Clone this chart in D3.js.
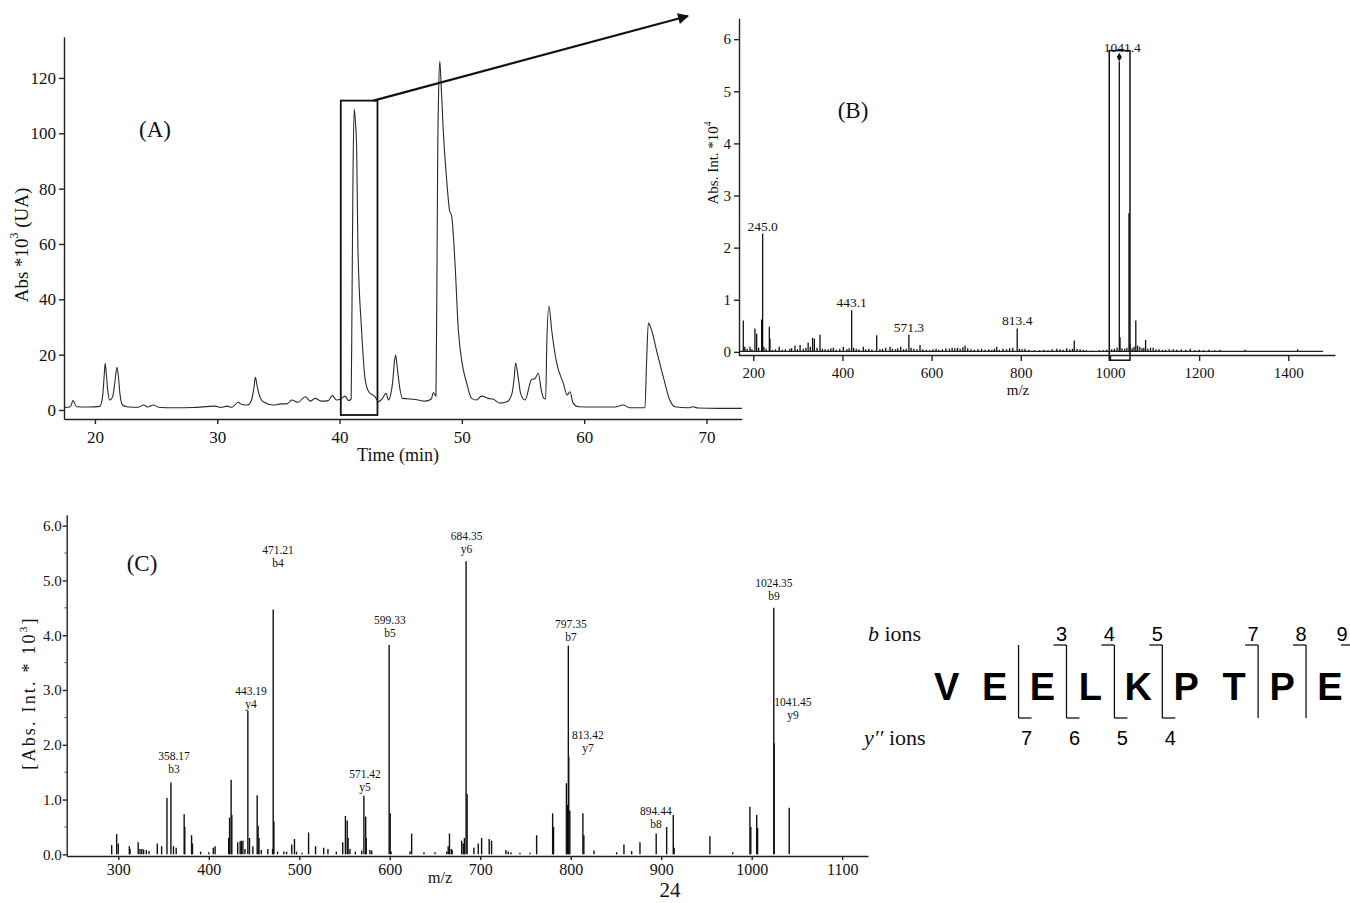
<!DOCTYPE html>
<html>
<head>
<meta charset="utf-8">
<script src="https://cdn.jsdelivr.net/npm/d3@7"></script>
<style>
body { margin: 0; background: #fff; }
</style>
</head>
<body>
<script>
// ---- panel A : chromatogram ----
var chromTime = [17.5,18.0,18.2,18.5,19.5,20.4,20.63,20.75,20.84,20.95,21.05,21.2,21.45,21.6,21.8,21.92,22.04,22.26,22.6,23.5,24.0,24.3,24.77,25.2,26.5,28,29.8,30.3,30.8,31.2,31.7,32.0,32.5,32.8,33.0,33.12,33.25,33.4,33.76,34.6,35.2,35.7,36.1,36.6,37.2,37.6,38.0,38.5,39.08,39.4,39.76,40.1,40.44,40.75,40.95,41.02,41.1,41.2,41.3,41.4,41.5,41.8,42.1,42.4,42.9,43.2,43.5,43.8,44.0,44.2,44.34,44.5,44.59,44.7,44.94,45.15,46.2,47.0,47.5,47.66,47.88,47.95,48.03,48.1,48.2,48.3,48.48,48.76,49.0,49.17,49.44,49.71,49.98,50.4,50.8,51.2,51.6,52.16,52.57,53.1,53.7,54.1,54.26,54.4,54.6,54.8,55.16,55.7,55.98,56.25,56.5,56.7,56.85,56.95,57.12,57.34,57.75,58.3,58.6,58.84,59.1,59.5,61,62.5,63.2,63.7,64.97,65.1,65.25,65.5,65.93,66.47,67.0,67.4,68.5,68.9,69.3,71,72.9];
var chromAbs = [0.9,1.2,3.4,1.2,1.1,1.3,5,12,16.9,12,7,3.6,4.8,9,15.4,12,6,1.8,1.2,1.0,1.8,1.1,1.8,1.0,0.8,0.9,1.4,0.9,1.4,1.0,2.8,2.0,1.8,3.6,8,11.8,9,6,3,1.8,2.2,2.2,3.6,2.8,4.8,3.2,4.2,3.2,3.4,5.2,3.6,4,5,3.4,4,40,85,108.8,104,94,59,29,10.8,6.5,4.8,3,4.2,6,3.6,6,10,18,19.9,16,7.5,4.2,3.8,3.2,4,6.3,5,40,95,115,126,118,101,83,72,70,53,29,18,9.6,4.2,3.6,5,4.2,3.9,2.5,3,6,11,17,12,6,3.6,11,11.4,13.3,7,4.2,4,25,37.6,29,17,9.6,5.4,6.6,2.5,1.2,1.1,1.1,1.8,0.8,0.8,17,31.4,29,21.3,12,3.6,1.2,0.8,1.2,0.7,0.6,0.6];
var aXTicks = [20, 30, 40, 50, 60, 70];
var aYTicks = [0, 20, 40, 60, 80, 100, 120];
var aBox = [40.1, 43.1, -1.8, 111.8];   // t0, t1, abs0, abs1

// ---- panel B : MS spectrum ----
var bMz = [177.6,181,186,192.6,197,203.7,207.6,212,218.8,221,224,229,236,237.5,243,250,258,265,272,282,286,293.5,299,305,312,318,323,328,333,337,343,349.6,355,361,368,374,379.5,386,394,402,410,415,420.7,425,431,437,446.7,452,459,466,476.8,484,490,497,506.6,512,519,524,530.6,537,543,549,554,560,567,574,580,588,596,603,610,616,624,632,640,646,652,658,664,670,675,681,688,696,704,712,720,728,735,741,746,752,760,768,775,782,792,797,803,809.5,818,830,842,852,861,870,880.6,888,895,903,910,916,920,926,933,940,947,960,976,985,993,1004,1010,1016,1021,1022.6,1027,1033,1038,1042.7,1045,1050,1054,1058,1062,1067,1072,1076,1080,1085,1091,1097,1103,1110,1118,1125,1133,1142,1150,1160,1170,1180,1190,1200,1210,1222,1235,1247,1303,1421];
var bInt = [0.6,0.1,0.06,0.1,0.05,0.45,0.35,0.08,0.62,2.27,0.1,0.06,0.48,0.25,0.04,0.05,0.1,0.04,0.05,0.06,0.07,0.12,0.05,0.13,0.06,0.08,0.18,0.1,0.27,0.25,0.08,0.33,0.06,0.05,0.05,0.07,0.08,0.04,0.06,0.1,0.05,0.07,0.8,0.08,0.06,0.05,0.1,0.05,0.06,0.04,0.32,0.05,0.06,0.08,0.1,0.06,0.05,0.07,0.1,0.05,0.06,0.33,0.08,0.06,0.05,0.13,0.05,0.04,0.03,0.05,0.06,0.04,0.05,0.07,0.06,0.08,0.07,0.08,0.06,0.09,0.12,0.07,0.05,0.04,0.05,0.06,0.04,0.05,0.04,0.06,0.1,0.04,0.06,0.05,0.07,0.08,0.45,0.06,0.05,0.06,0.04,0.03,0.03,0.04,0.03,0.05,0.06,0.05,0.04,0.07,0.05,0.06,0.22,0.06,0.05,0.04,0.03,0.02,0.03,0.03,0.04,0.05,0.06,0.08,5.57,0.28,0.07,0.06,0.08,2.66,0.15,0.07,0.1,0.6,0.12,0.1,0.07,0.08,0.23,0.06,0.08,0.08,0.05,0.05,0.04,0.04,0.05,0.05,0.04,0.05,0.04,0.06,0.03,0.04,0.03,0.04,0.03,0.04,0.04,0.05];
var bBaseline = [170, 1478];
var bLabelMz = [221, 420.7, 549, 792, 1021];
var bLabelText = ["245.0", "443.1", "571.3", "813.4", "1041.4"];
var bXTicks = [200, 400, 600, 800, 1000, 1200, 1400];
var bYTicks = [0, 1, 2, 3, 4, 5, 6];
var bBox = [998.5, 1044.9, -0.16, 5.78];

// ---- panel C : MS/MS spectrum ----
var cMz = [292.7,298.2,300,312.2,313,322,324,326,328,331,334,343.1,347.9,353.8,358.17,361,364,372.8,373.5,381,382,391,400,405,407,422,423,424.7,425.5,432,434.7,436,437.7,440,443.19,445,448.7,453.5,454.5,455.5,458,465.3,470.5,471.21,472,476,483,486,491.7,494.7,497,503,510.3,518,527,531.7,541,548,551,553,554,556,562,569,571.42,573.4,574,578,580,599.33,600.5,601.5,622.3,624.2,637.8,650,663,664.6,666,668,669,679.5,681.3,682.5,684.35,685.5,693,697.8,701.5,709.9,712.5,728.4,731,734,743.9,755,762.3,780,781,795.2,796.2,797.35,797.8,799,813.42,814.5,825.7,850.7,858.8,867.3,876.5,894.44,906,913.3,914.3,953.8,979,998,999,1005.5,1006.5,1024.35,1024.8,1041.45];
var cInt = [0.17,0.37,0.2,0.15,0.1,0.22,0.1,0.1,0.09,0.08,0.06,0.2,0.15,1.03,1.31,0.15,0.12,0.73,0.5,0.35,0.2,0.05,0.04,0.12,0.15,0.3,0.67,1.36,0.72,0.22,0.24,0.25,0.25,0.1,2.62,0.3,0.15,1.08,0.52,0.3,0.08,0.1,0.1,4.47,0.6,0.05,0.05,0.05,0.18,0.28,0.05,0.03,0.4,0.15,0.12,0.1,0.05,0.22,0.7,0.62,0.3,0.1,0.05,0.07,1.07,0.69,0.3,0.08,0.07,3.82,0.75,0.05,0.05,0.38,0.04,0.04,0.05,0.15,0.38,0.1,0.08,0.25,0.2,0.3,5.35,1.1,0.12,0.2,0.3,0.28,0.25,0.08,0.05,0.04,0.03,0.03,0.35,0.75,0.5,1.3,0.9,3.81,1.78,0.8,0.75,0.35,0.07,0.04,0.18,0.06,0.22,0.38,0.5,0.72,0.12,0.33,0.04,0.87,0.5,0.72,0.48,4.5,2.03,0.85];
var cLabelMz = [361.6, 446.6, 476.5, 572.6, 600.2, 684.9, 800.2, 819, 894.1, 1024.5, 1045.5];
var cLabelLevel = [1.49, 2.68, 5.24, 1.15, 3.97, 5.5, 3.9, 1.86, 0.48, 4.65, 2.47];
var cLabelValue = ["358.17", "443.19", "471.21", "571.42", "599.33", "684.35", "797.35", "813.42", "894.44", "1024.35", "1041.45"];
var cLabelIon = ["b3", "y4", "b4", "y5", "b5", "y6", "b7", "y7", "b8", "b9", "y9"];
var cXTicks = [300, 400, 500, 600, 700, 800, 900, 1000, 1100];
var cYTicks = [0, 1, 2, 3, 4, 5, 6];
var cYMinor = [0.5, 1.5, 2.5, 3.5, 4.5, 5.5];

// ---- peptide sequence ----
var residues = ["V", "E", "E", "L", "K", "P", "T", "P", "E"];
var bIons = [3, 4, 5, 7, 8, 9];
var yIons = [7, 6, 5, 4];

var serif = "Liberation Serif, Times New Roman, serif";
var sans = "Liberation Sans, Arial, sans-serif";
var ink = "#111";
var intFmt = d3.format("d");

var svg = d3.select("body").append("svg")
  .attr("width", 1350)
  .attr("height", 903)
  .style("background", "#fff");

function styleAxis(g, fs) {
  g.selectAll("path, line").attr("stroke", "#222").attr("stroke-width", 1.4);
  g.selectAll("text").attr("font-family", serif).attr("font-size", fs).attr("fill", ink);
}

function yTitle(x, y, parts, fs, spacing) {
  var t = svg.append("text")
    .attr("transform", "translate(" + x + "," + y + ") rotate(-90)")
    .attr("text-anchor", "middle")
    .attr("dominant-baseline", "central")
    .attr("font-family", serif)
    .attr("font-size", fs)
    .attr("fill", ink);
  if (spacing) t.attr("letter-spacing", spacing);
  parts.forEach(function(p) {
    var s = t.append("tspan").text(p.t);
    if (p.sup) s.attr("font-size", fs * 0.62).attr("dy", -fs * 0.35);
    if (p.after) s.attr("dy", fs * 0.35);
  });
  return t;
}

function plainText(x, y, s, fs, anchor) {
  return svg.append("text")
    .attr("x", x).attr("y", y)
    .attr("text-anchor", anchor || "middle")
    .attr("font-family", serif)
    .attr("font-size", fs)
    .attr("fill", ink)
    .text(s);
}

// ================= A =================
var xA = d3.scaleLinear().domain([17.47, 72.88]).range([64, 741.7]);
var yA = d3.scaleLinear().domain([-3.25, 134.9]).range([419, 36.7]);

var gAx = svg.append("g").attr("transform", "translate(0,419)")
  .call(d3.axisBottom(xA).tickValues(aXTicks).tickFormat(intFmt).tickSize(5).tickSizeOuter(0).tickPadding(7));
styleAxis(gAx, 17);
var gAy = svg.append("g").attr("transform", "translate(64,0)")
  .call(d3.axisLeft(yA).tickValues(aYTicks).tickFormat(intFmt).tickSize(5).tickSizeOuter(0).tickPadding(3));
styleAxis(gAy, 17);

var chrom = chromTime.map(function(t, i) { return [t, chromAbs[i]]; });
svg.append("path")
  .datum(chrom)
  .attr("fill", "none")
  .attr("stroke", "#2a2a2a")
  .attr("stroke-width", 1.1)
  .attr("d", d3.line()
    .x(function(d) { return xA(d[0]); })
    .y(function(d) { return yA(d[1]); })
    .curve(d3.curveMonotoneX));

svg.append("rect")
  .attr("x", xA(aBox[0])).attr("y", yA(aBox[3]))
  .attr("width", xA(aBox[1]) - xA(aBox[0]))
  .attr("height", yA(aBox[2]) - yA(aBox[3]))
  .attr("fill", "none").attr("stroke", ink).attr("stroke-width", 1.8);

plainText(155, 137, "(A)", 23);
plainText(398, 461, "Time (min)", 18);
yTitle(21, 245, [{t: "Abs *10"}, {t: "3", sup: true}, {t: " (UA)", after: true}], 19);

// zoom arrow from the box to panel B
svg.append("defs").append("marker")
  .attr("id", "head")
  .attr("viewBox", "0 0 10 10")
  .attr("refX", 9).attr("refY", 5)
  .attr("markerWidth", 7).attr("markerHeight", 5)
  .attr("markerUnits", "strokeWidth")
  .attr("orient", "auto")
  .append("path").attr("d", "M0,0L10,5L0,10Z").attr("fill", ink);

svg.append("line")
  .attr("x1", xA(aBox[1]) - 4).attr("y1", yA(aBox[3]))
  .attr("x2", 688).attr("y2", 16)
  .attr("stroke", ink).attr("stroke-width", 2.2)
  .attr("marker-end", "url(#head)");

// ================= B =================
var xB = d3.scaleLinear().domain([166.4, 1504.8]).range([738.3, 1335]);
var yB = d3.scaleLinear().domain([-0.06, 6.4]).range([355, 18.3]);

var gBx = svg.append("g").attr("transform", "translate(0,355)")
  .call(d3.axisBottom(xB).tickValues(bXTicks).tickFormat(intFmt).tickSize(6).tickSizeOuter(0).tickPadding(6));
styleAxis(gBx, 15);
var gBy = svg.append("g").attr("transform", "translate(739,0)")
  .call(d3.axisLeft(yB).tickValues(bYTicks).tickFormat(intFmt).tickSize(5).tickSizeOuter(0).tickPadding(3));
styleAxis(gBy, 15);

svg.append("line")
  .attr("x1", xB(bBaseline[0])).attr("x2", xB(bBaseline[1]))
  .attr("y1", yB(0.01)).attr("y2", yB(0.01))
  .attr("stroke", "#222").attr("stroke-width", 1.3);

svg.append("g").selectAll("line")
  .data(bMz)
  .enter().append("line")
  .attr("x1", function(d) { return xB(d); })
  .attr("x2", function(d) { return xB(d); })
  .attr("y1", yB(0))
  .attr("y2", function(d, i) { return yB(bInt[i]); })
  .attr("stroke", "#111")
  .attr("stroke-width", 1.3);

bLabelMz.forEach(function(m, k) {
  var h = bInt[bMz.indexOf(m)];
  var last = k === bLabelMz.length - 1;
  plainText(xB(m) + (last ? 3 : 0), yB(h) - (last ? 10 : 3), bLabelText[k], 13.5);
  if (last) {
    svg.append("path")
      .attr("d", d3.symbol(d3.symbolDiamond).size(22)())
      .attr("transform", "translate(" + xB(m) + "," + (yB(h) - 4.5) + ")")
      .attr("fill", ink);
  }
});

svg.append("rect")
  .attr("x", xB(bBox[0])).attr("y", yB(bBox[3]))
  .attr("width", xB(bBox[1]) - xB(bBox[0]))
  .attr("height", yB(bBox[2]) - yB(bBox[3]))
  .attr("fill", "none").attr("stroke", ink).attr("stroke-width", 1.5);

plainText(853, 118, "(B)", 23);
plainText(1018, 395, "m/z", 15);
yTitle(713, 163, [{t: "Abs. Int. *10"}, {t: "4", sup: true}], 15);

// ================= C =================
var xC = d3.scaleLinear().domain([243, 1128.5]).range([66.7, 868]);
var yC = d3.scaleLinear().domain([-0.03, 6.2]).range([856, 514.7]);

var gCx = svg.append("g").attr("transform", "translate(0,856)")
  .call(d3.axisBottom(xC).tickValues(cXTicks).tickFormat(intFmt).tickSize(4).tickSizeOuter(0).tickPadding(4));
styleAxis(gCx, 16);
var gCy = svg.append("g").attr("transform", "translate(66.7,0)")
  .call(d3.axisLeft(yC).tickValues(cYTicks).tickFormat(d3.format(".1f")).tickSize(4).tickSizeOuter(0).tickPadding(1));
styleAxis(gCy, 15);
svg.append("g").selectAll("line")
  .data(cYMinor)
  .enter().append("line")
  .attr("x1", 64.5).attr("x2", 66.7)
  .attr("y1", function(d) { return yC(d); })
  .attr("y2", function(d) { return yC(d); })
  .attr("stroke", "#444").attr("stroke-width", 1);

svg.append("g").selectAll("line")
  .data(cMz)
  .enter().append("line")
  .attr("x1", function(d) { return xC(d); })
  .attr("x2", function(d) { return xC(d); })
  .attr("y1", yC(0))
  .attr("y2", function(d, i) { return yC(cInt[i]); })
  .attr("stroke", "#111")
  .attr("stroke-width", 1.4);

cLabelMz.forEach(function(m, k) {
  var y = yC(cLabelLevel[k]);
  plainText(xC(m), y - 13, cLabelValue[k], 11.5);
  plainText(xC(m), y, cLabelIon[k], 11.5);
});

plainText(142, 571, "(C)", 23);
plainText(440, 883, "m/z", 16);
yTitle(29, 693, [{t: "[Abs. Int. * 10"}, {t: "3", sup: true}, {t: "]", after: true}], 18, 2.2);

plainText(670, 897, "24", 21);

// ================= peptide =================
var xRes = d3.scaleLinear().domain([0, residues.length - 1]).range([946.7, 1330]);
var step = xRes(1) - xRes(0);
function cutX(n) { return xRes(n - 1) + step / 2; }   // after residue n

svg.append("g").selectAll("text")
  .data(residues)
  .enter().append("text")
  .attr("x", function(d, i) { return xRes(i); })
  .attr("y", 700)
  .attr("text-anchor", "middle")
  .attr("font-family", sans)
  .attr("font-weight", "bold")
  .attr("font-size", 38)
  .attr("fill", "#000")
  .text(function(d) { return d; });

var cuts = d3.union(bIons, yIons.map(function(y) { return residues.length - y; }));
var gPep = svg.append("g").attr("stroke", "#111").attr("stroke-width", 1.3).attr("fill", "none");
cuts.forEach(function(n) {
  var x = cutX(n);
  gPep.append("line").attr("x1", x).attr("x2", x).attr("y1", 645).attr("y2", 718);
});
bIons.forEach(function(n) {
  var x = cutX(n);
  gPep.append("line").attr("x1", x - 13).attr("x2", x).attr("y1", 645).attr("y2", 645);
  svg.append("text").attr("x", Math.min(x - 5, 1342)).attr("y", 641)
    .attr("text-anchor", "middle").attr("font-family", sans).attr("font-size", 20).attr("fill", "#000")
    .text(n);
});
yIons.forEach(function(n) {
  var x = cutX(residues.length - n);
  gPep.append("line").attr("x1", x).attr("x2", x + 13).attr("y1", 718).attr("y2", 718);
  svg.append("text").attr("x", x + 8).attr("y", 745)
    .attr("text-anchor", "middle").attr("font-family", sans).attr("font-size", 20).attr("fill", "#000")
    .text(n);
});

var bt = plainText(868, 641, "", 22, "start");
bt.append("tspan").attr("font-style", "italic").text("b");
bt.append("tspan").text(" ions");
var yt = plainText(864, 745, "", 22, "start");
yt.append("tspan").attr("font-style", "italic").text("y\u2032\u2032");
yt.append("tspan").text(" ions");
</script>
</body>
</html>
